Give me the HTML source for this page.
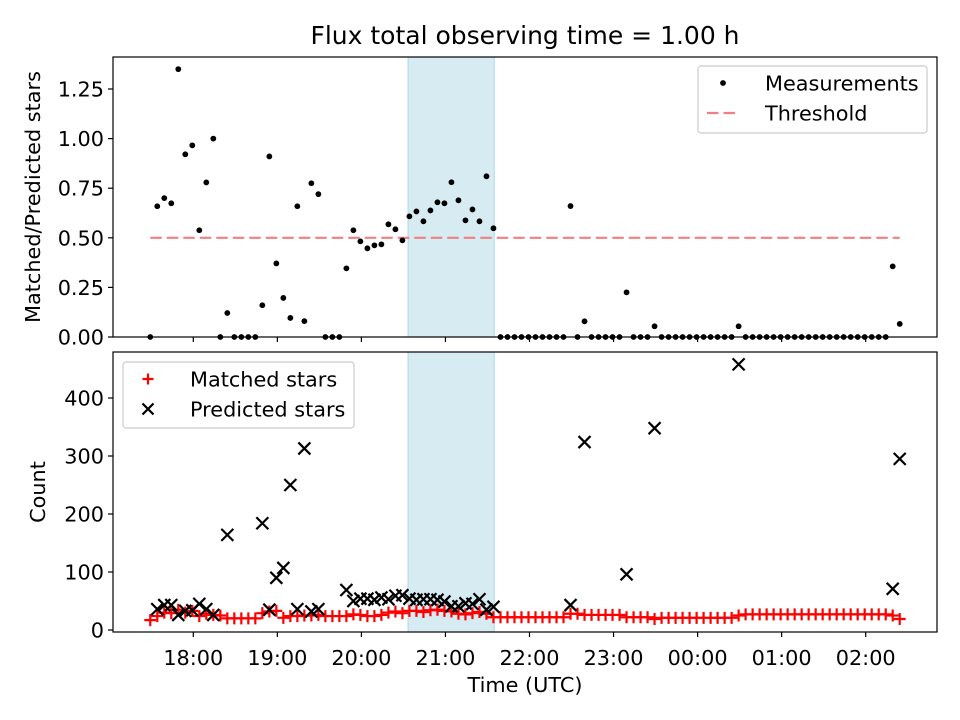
<!DOCTYPE html>
<html><head><meta charset="utf-8"><style>
body{margin:0;background:#fff;}
svg{display:block;font-family:"DejaVu Sans","Liberation Sans",sans-serif;}
</style></head><body>
<svg id="chart" width="960" height="720" viewBox="0 0 960 720" xmlns="http://www.w3.org/2000/svg">
<rect width="960" height="720" fill="#fff"/>
<text x="525" y="44" font-size="25" text-anchor="middle">Flux total observing time = 1.00 h</text>
<g id="topPanel"></g><g id="botPanel"></g>
<text x="525" y="692" font-size="20.8" text-anchor="middle">Time (UTC)</text>
<text transform="translate(40,197) rotate(-90)" font-size="20.8" text-anchor="middle">Matched/Predicted stars</text>
<text transform="translate(45,492) rotate(-90)" font-size="20.8" text-anchor="middle">Count</text>
</svg>
<script>
const startHour = 17.488;
const stepHours = 1/12;
const ratio = [0,0.659,0.70,0.674,1.35,0.921,0.966,0.538,0.779,1.00,0,0.121,0,0,0,0,0.16,0.91,0.371,0.197,0.096,0.659,0.080,0.775,0.72,0,0,0,0.346,0.538,0.482,0.447,0.462,0.467,0.568,0.543,0.487,0.608,0.633,0.583,0.638,0.679,0.674,0.780,0.689,0.588,0.643,0.583,0.810,0.548,0,0,0,0,0,0,0,0,0,0,0.66,0,0.079,0,0,0,0,0,0.225,0,0,0,0.054,0,0,0,0,0,0,0,0,0,0,0,0.054,0,0,0,0,0,0,0,0,0,0,0,0,0,0,0,0,0,0,0,0,0,0.356,0.066];
const matched = [17,24,30,29,35,30,33,24,28,26,25,20,20,20,20,20,29,32,33,21,24,24,25,25,26,24,24,24,24,27,26,24,24,26,30,32,29,33,33,31,34,35,33,32,28,27,29,31,28,22,22,22,22,22,22,22,22,22,22,22,28,28,26,26,26,26,26,26,22,22,22,22,19,21,21,21,21,21,21,21,21,21,21,21,25,27,27,27,27,27,27,27,27,27,27,27,27,27,27,27,27,27,27,27,27,27,25,19];
const predicted = [null,36,43,43,26,33,34,45,36,26,null,164,null,null,null,null,184,35,90,107,250,36,313,32,36,null,null,null,69,50,54,54,52,56,53,59,60,54,52,53,53,52,49,41,41,46,45,53,35,40,null,null,null,null,null,null,null,null,null,null,43,null,324,null,null,null,null,null,96,null,null,null,348,null,null,null,null,null,null,null,null,null,null,null,458,null,null,null,null,null,null,null,null,null,null,null,null,null,null,null,null,null,null,null,null,null,71,295];
const threshold = 0.5;
const spanStart = 20.555, spanEnd = 21.58;
const xTickHours = [18,19,20,21,22,23,24,25,26];
const xTickLabels = ["18:00","19:00","20:00","21:00","22:00","23:00","00:00","01:00","02:00"];
const topTicks = [0,0.25,0.5,0.75,1.0,1.25];
const topTickLabels = ["0.00","0.25","0.50","0.75","1.00","1.25"];
const botTicks = [0,100,200,300,400];
const botTickLabels = ["0","100","200","300","400"];

const NS="http://www.w3.org/2000/svg";
const L=113,R=937,FS=20.8;
function xs(h){return 193.3+84.05*(h-18);}
function yTop(v){return 337-198.4*v;}
function yBot(v){return 630-0.58*v;}
function mk(tag,attrs,parent){const e=document.createElementNS(NS,tag);for(const k in attrs)e.setAttribute(k,attrs[k]);parent.appendChild(e);return e;}
const times = ratio.map((_,i)=>startHour+i*stepHours);

function panel(g,y0,y1,ticks,labels,yf,nm){
  const sp=mk('rect',{x:xs(spanStart),y:y0,width:xs(spanEnd)-xs(spanStart),height:y1-y0,fill:'#add8e6','fill-opacity':0.5,stroke:'#add8e6'},g);
  
  
  ticks.forEach((t,i)=>{
    const y=yf(t);
    mk('line',{x1:L-5,x2:L,y1:y,y2:y,stroke:'#000','stroke-width':1.2},g);
    const tx=mk('text',{x:L-9,y:y+7.5,'font-size':FS,'text-anchor':'end'},g);
    tx.textContent=labels[i];
    
    
  });
  xTickHours.forEach((h,i)=>{
    mk('line',{x1:xs(h),x2:xs(h),y1:y1,y2:y1+5,stroke:'#000','stroke-width':1.2},g);
  });
}
const topG=document.getElementById('topPanel'), botG=document.getElementById('botPanel');
panel(topG,57,337,topTicks,topTickLabels,yTop,'top');
panel(botG,352,632,botTicks,botTickLabels,yBot,'bottom');
xTickHours.forEach((h,i)=>{
  const tx=mk('text',{x:xs(h),y:665,'font-size':FS,'text-anchor':'middle'},botG);
  tx.textContent=xTickLabels[i];
  
  
});
const th=mk('line',{x1:xs(times[0]),x2:xs(times[times.length-1]),y1:yTop(threshold),y2:yTop(threshold),stroke:'#f08080','stroke-width':2.2,'stroke-dasharray':'11.5,5'},topG);


ratio.forEach((v,i)=>{
  const c=mk('circle',{cx:xs(times[i]),cy:yTop(v),r:2.9,fill:'#000'},topG);
  
  
});
matched.forEach((v,i)=>{
  const x=xs(times[i]),y=yBot(v);
  const p=mk('path',{d:`M${x-6},${y}H${x+6}M${x},${y-6}V${y+6}`,stroke:'#f00','stroke-width':2.2,fill:'none'},botG);
  
  
});
predicted.forEach((v,i)=>{
  if(v===null)return;
  const x=xs(times[i]),y=yBot(v),s=6;
  const p=mk('path',{d:`M${x-s},${y-s}L${x+s},${y+s}M${x-s},${y+s}L${x+s},${y-s}`,stroke:'#000','stroke-width':2.2,fill:'none'},botG);
  
  
});
[[topG,57,337],[botG,352,632]].forEach(([g,a,b])=>{
  const f=mk('rect',{x:L,y:a,width:R-L,height:b-a,fill:'none',stroke:'#000','stroke-width':1.2},g);
  
  
});
function legend(g,x,y,w,h,items,nm){
  const lg=mk('g',{},g);
  
  
  mk('rect',{x:x,y:y,width:w,height:h,rx:3,fill:'#fff','fill-opacity':0.8,stroke:'#ccc','stroke-width':1.2},lg);
  items.forEach((it,i)=>{
    const cy=y+17+i*30, mx=x+25;
    if(it.t==='dot')mk('circle',{cx:mx,cy:cy,r:2.9,fill:'#000'},lg);
    if(it.t==='dash')mk('line',{x1:x+9,x2:x+41,y1:cy,y2:cy,stroke:'#f08080','stroke-width':2.2,'stroke-dasharray':'11.5,5'},lg);
    if(it.t==='plus')mk('path',{d:`M${mx-5.5},${cy}H${mx+5.5}M${mx},${cy-5.5}V${cy+5.5}`,stroke:'#f00','stroke-width':2.2},lg);
    if(it.t==='x')mk('path',{d:`M${mx-5.5},${cy-5.5}L${mx+5.5},${cy+5.5}M${mx-5.5},${cy+5.5}L${mx+5.5},${cy-5.5}`,stroke:'#000','stroke-width':2.2},lg);
    const tx=mk('text',{x:x+67,y:cy+7.5,'font-size':FS},lg);
    tx.textContent=it.s;
    
    
  });
}
legend(topG,698,66,229,67,[{t:'dot',s:'Measurements'},{t:'dash',s:'Threshold'}],'top-legend');
legend(botG,123,362,231,66,[{t:'plus',s:'Matched stars'},{t:'x',s:'Predicted stars'}],'bottom-legend');
</script>
</body></html>
